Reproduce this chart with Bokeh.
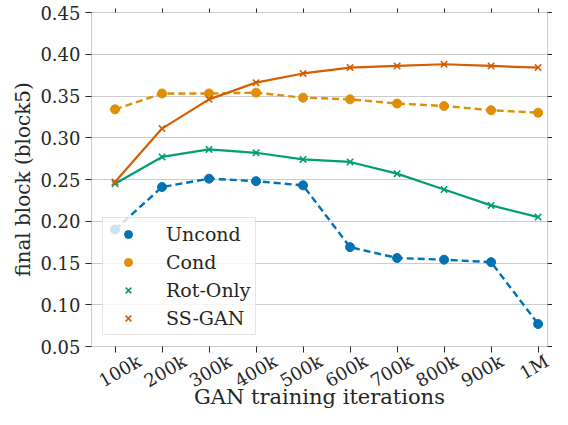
import math
import numpy as np
from bokeh.plotting import figure
from bokeh.models import (LinearAxis, FixedTicker, PrintfTickFormatter, Legend,
                          LegendItem, Range1d)
from bokeh.embed import file_html
from bokeh.resources import INLINE

# ---- data ----
iterations = ["100k", "200k", "300k", "400k", "500k", "600k", "700k", "800k", "900k", "1M"]
uncond   = [0.190, 0.241, 0.251, 0.248, 0.243, 0.169, 0.156, 0.154, 0.151, 0.077]
cond     = [0.334, 0.353, 0.353, 0.354, 0.348, 0.346, 0.341, 0.338, 0.333, 0.330]
rot_only = [0.245, 0.277, 0.286, 0.282, 0.274, 0.271, 0.257, 0.238, 0.219, 0.205]
ss_gan   = [0.247, 0.311, 0.346, 0.366, 0.377, 0.384, 0.386, 0.388, 0.386, 0.384]
y_ticks  = [0.05, 0.10, 0.15, 0.20, 0.25, 0.30, 0.35, 0.40, 0.45]

x = [int(v) for v in np.arange(1, len(iterations) + 1)]

BLUE, ORANGE, GREEN, RED = "#0173b2", "#de8f05", "#029e73", "#d55e00"
TXT = "#262626"
SPINE = "#cccccc"
FONT = "DejaVu Serif"

p = figure(frame_width=456, frame_height=334,
           x_range=Range1d(0.5, 10.2), y_range=Range1d(0.05, 0.45),
           output_backend="svg", toolbar_location=None,
           min_border_left=91, min_border_top=12, min_border_right=5,
           min_border_bottom=63)
# helper range for the rotated tick labels so they sit centred under their ticks
p.extra_x_ranges = {"lab": Range1d(-0.06, 10.011)}

p.background_fill_color = "white"
p.border_fill_color = "white"
p.outline_line_color = SPINE
p.xgrid.visible = False
p.ygrid.grid_line_color = SPINE
p.ygrid.grid_line_width = 1

# bottom axis: tick marks only
xa = p.xaxis[0]
xa.ticker = FixedTicker(ticks=x)
xa.major_label_text_font_size = "0px"
xa.major_label_text_color = None
xa.major_label_standoff = 0
xa.axis_line_color = SPINE
xa.major_tick_line_color = TXT
xa.major_tick_out = 6
xa.major_tick_in = 0
xa.minor_tick_out = 0
xa.minor_tick_in = 0

# bottom label axis: rotated tick labels + axis title
lab = LinearAxis(x_range_name="lab", ticker=FixedTicker(ticks=x),
                 major_label_overrides={v: t for v, t in zip(x, iterations)},
                 major_label_orientation=math.pi / 6,
                 major_label_text_font=FONT, major_label_text_font_size="18px",
                 major_label_text_color=TXT, major_label_standoff=7,
                 major_tick_out=0, major_tick_in=0, minor_tick_out=0, minor_tick_in=0,
                 axis_line_color=None,
                 axis_label="GAN training iterations", axis_label_text_font=FONT,
                 axis_label_text_font_size="21px", axis_label_text_font_style="normal",
                 axis_label_text_color=TXT, axis_label_standoff=-18)
p.add_layout(lab, "below")

ya = p.yaxis[0]
ya.ticker = FixedTicker(ticks=y_ticks)
ya.formatter = PrintfTickFormatter(format="%.2f")
ya.axis_label = "final block (block5)"
ya.axis_line_color = SPINE
ya.major_tick_line_color = TXT
ya.major_tick_out = 6
ya.major_tick_in = 0
ya.minor_tick_out = 0
ya.minor_tick_in = 0
ya.major_label_text_font = FONT
ya.major_label_text_font_size = "18px"
ya.major_label_text_color = TXT
ya.major_label_standoff = 5
ya.axis_label_text_font = FONT
ya.axis_label_text_font_size = "20px"
ya.axis_label_text_font_style = "normal"
ya.axis_label_text_color = TXT
ya.axis_label_standoff = 2

# decorative tick-only axes on top and right
top = LinearAxis(ticker=FixedTicker(ticks=x), major_label_text_font_size="0px",
                 major_label_text_color=None,
                 major_label_standoff=0, major_tick_out=4, major_tick_in=0,
                 minor_tick_out=0, minor_tick_in=0, axis_line_color=SPINE,
                 major_tick_line_color=TXT)
right = LinearAxis(ticker=FixedTicker(ticks=y_ticks), major_label_text_font_size="0px",
                   major_label_text_color=None,
                   major_label_standoff=0, major_tick_out=5, major_tick_in=0,
                   minor_tick_out=0, minor_tick_in=0, axis_line_color=SPINE,
                   major_tick_line_color=TXT)
p.add_layout(top, "above")
p.add_layout(right, "right")

# series
p.line(x, uncond, line_color=BLUE, line_width=2.4, line_dash="7 4")
s_u = p.scatter(x, uncond, marker="circle", size=9, fill_color=BLUE, line_color=BLUE)

p.line(x, cond, line_color=ORANGE, line_width=2.4, line_dash="7 4")
s_c = p.scatter(x, cond, marker="circle", size=9, fill_color=ORANGE, line_color=ORANGE)

p.line(x, rot_only, line_color=GREEN, line_width=2.2)
s_r = p.scatter(x, rot_only, marker="x", size=9, line_color=GREEN, line_width=1.6)

p.line(x, ss_gan, line_color=RED, line_width=2.2)
s_s = p.scatter(x, ss_gan, marker="x", size=9, line_color=RED, line_width=1.6)

legend = Legend(items=[LegendItem(label="Uncond", renderers=[s_u]),
                       LegendItem(label="Cond", renderers=[s_c]),
                       LegendItem(label="Rot-Only", renderers=[s_r]),
                       LegendItem(label="SS-GAN", renderers=[s_s])],
                location=(11, 11), margin=0, padding=5, spacing=6,
                glyph_width=40, glyph_height=20, label_height=20,
                label_standoff=18,
                label_text_font=FONT, label_text_font_size="19px",
                label_text_color=TXT,
                border_line_color=SPINE, border_line_width=1,
                background_fill_color="white", background_fill_alpha=0.8)
p.add_layout(legend)

open("out.html", "w").write(file_html(p, INLINE))
